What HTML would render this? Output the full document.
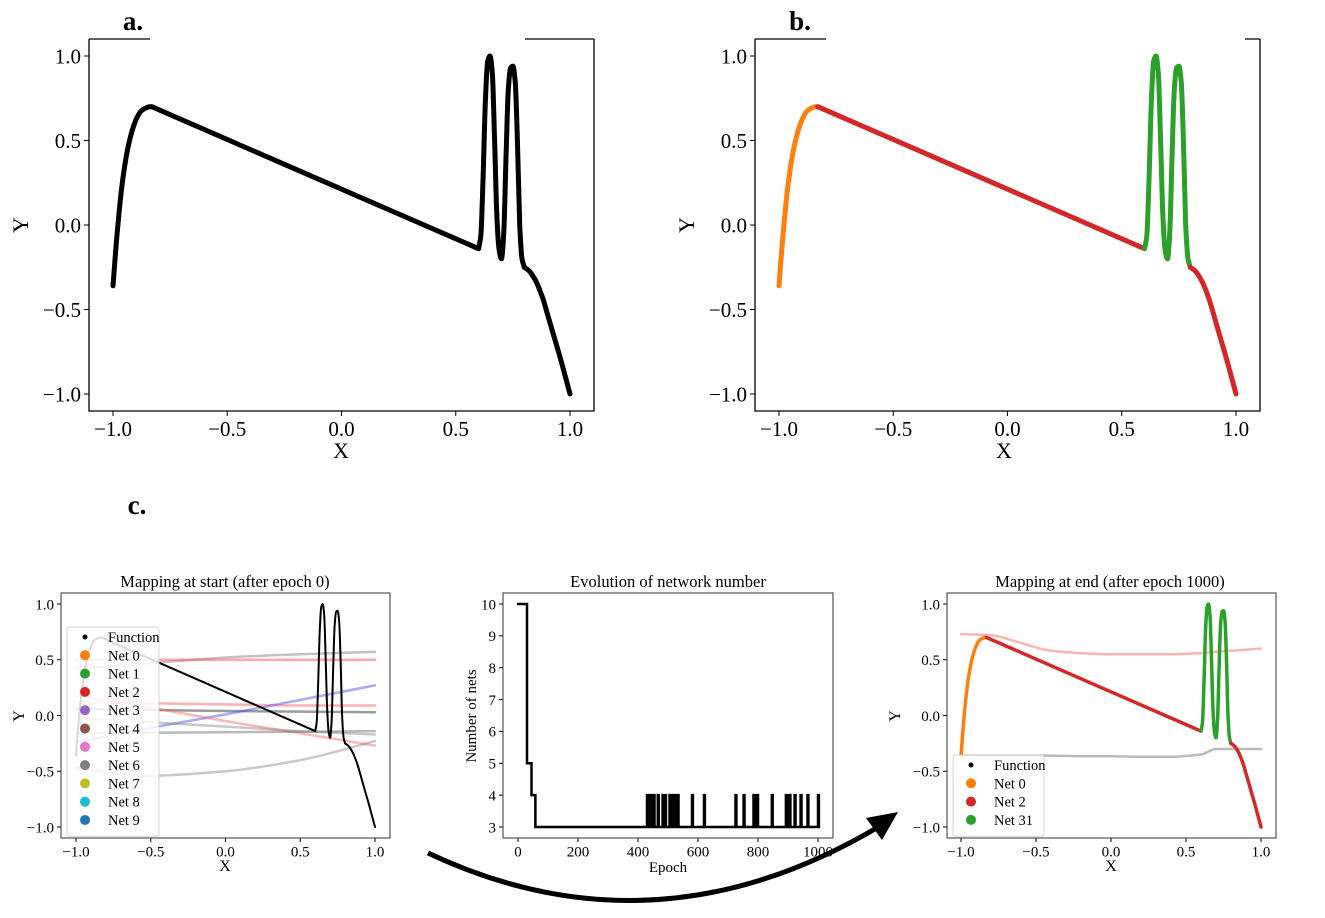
<!DOCTYPE html>
<html><head><meta charset="utf-8"><style>
html,body{margin:0;padding:0;background:#fff;}
svg{display:block;font-family:"Liberation Serif",serif;}
</style></head><body>
<svg id="fig" width="1325" height="918" viewBox="0 0 1325 918"></svg>
<script>
// ---- data ----
const funcX = [-1,-0.98,-0.96,-0.94,-0.92,-0.9,-0.88,-0.86,-0.84,-0.83,0.6,0.61,0.62,0.63,0.64,0.65,0.66,0.67,0.68,0.69,0.70,0.71,0.72,0.73,0.74,0.75,0.76,0.77,0.78,0.79,0.8,0.82,0.85,0.88,0.9,0.93,0.96,1.0];
const funcY = [-0.36,-0.02,0.24,0.42,0.54,0.62,0.67,0.69,0.70,0.70,-0.14,-0.06,0.3,0.75,0.97,1.0,0.9,0.5,0.05,-0.15,-0.2,-0.05,0.4,0.8,0.93,0.94,0.85,0.5,0.0,-0.2,-0.25,-0.27,-0.33,-0.43,-0.52,-0.66,-0.8,-1.0];
const segBreaks = [-0.83, 0.6, 0.8];
const segColorsB = ["#ff7f0e","#d62728","#2ca02c","#d62728"];
const xTicks = [-1.0,-0.5,0.0,0.5,1.0];
const yTicks = [1.0,0.5,0.0,-0.5,-1.0];
const tickLabels = ["\u22121.0","\u22120.5","0.0","0.5","1.0"];
const yTickLabels = ["1.0","0.5","0.0","\u22120.5","\u22121.0"];
const netSampleX = [-1,-0.5,0,0.5,1];
const startNetY = [
 [0.42,0.47,0.52,0.55,0.57],
 [0.5,0.5,0.5,0.5,0.5],
 [0.12,0.11,0.10,0.09,0.09],
 [0.06,0.05,0.04,0.035,0.03],
 [-0.24,-0.11,0.01,0.14,0.27],
 [0.18,0.07,-0.05,-0.16,-0.27],
 [-0.02,-0.06,-0.1,-0.14,-0.17],
 [-0.16,-0.155,-0.15,-0.145,-0.14],
 [-0.47,-0.54,-0.5,-0.4,-0.23]
];
const startNetColor = ["#777","#ff4040","#ff5050","#222","#4040ff","#ff6060","#888","#666","#888"];
const startLegend = ["Function","Net 0","Net 1","Net 2","Net 3","Net 4","Net 5","Net 6","Net 7","Net 8","Net 9"];
const startLegendColor = ["#000","#ff7f0e","#2ca02c","#d62728","#9467bd","#8c564b","#e377c2","#7f7f7f","#bcbd22","#17becf","#1f77b4"];
const endNetX = [-1,-0.8,-0.6,-0.4,-0.2,0,0.2,0.4,0.6,0.7,0.8,0.9,1];
const endNetRed = [0.73,0.72,0.65,0.58,0.56,0.55,0.55,0.55,0.56,0.57,0.58,0.59,0.6];
const endNetGray = [-0.36,-0.36,-0.36,-0.36,-0.365,-0.365,-0.37,-0.37,-0.35,-0.3,-0.3,-0.3,-0.3];
const endLegend = ["Function","Net 0","Net 2","Net 31"];
const endLegendColor = ["#000","#ff7f0e","#d62728","#2ca02c"];
const stepEpoch = [0,30,30,45,45,58,58];
const stepNets = [10,10,5,5,4,4,3];
const spikeEpochs = [430,436,441,447,452,466,482,490,505,512,520,526,532,580,620,725,752,785,790,797,846,893,898,905,922,942,965,1000];
const epochTicks = [0,200,400,600,800,1000];
const netTicks = [3,4,5,6,7,8,9,10];

const svg = document.getElementById('fig');
const NS = 'http://www.w3.org/2000/svg';
function mk(tag, attrs, parent){const e=document.createElementNS(NS,tag);for(const k in attrs)e.setAttribute(k,attrs[k]);(parent||svg).appendChild(e);return e;}
function txt(s,x,y,size,anchor,parent,extra){const t=mk('text',Object.assign({x:x,y:y,'font-size':size,'text-anchor':anchor||'middle',fill:'#000'},extra||{}),parent);t.textContent=s;return t;}
function scale(d0,d1,p0,p1){return v=>p0+(v-d0)*(p1-p0)/(d1-d0);}

function axes(name, L,R,T,B, sx, sy, xt, xl, yt, yl, fs, tickLen){
  const g=mk('g',{});
  
  
  xt.forEach((v,i)=>{const x=sx(v);mk('line',{x1:x,x2:x,y1:B,y2:B+tickLen,stroke:'#000','stroke-width':1},g);
    const t=txt(xl[i],x,B+tickLen+fs*0.95,fs,'middle',g);});
  yt.forEach((v,i)=>{const y=sy(v);mk('line',{x1:L-tickLen,x2:L,y1:y,y2:y,stroke:'#000','stroke-width':1},g);
    const t=txt(yl[i],L-tickLen-3,y+fs*0.35,fs,'end',g);});
  return g;
}
// Hermite spline parametrized by x (no backtracking)
function smoothPath(pts){
  const n=pts.length;
  let d='M'+pts[0][0].toFixed(1)+','+pts[0][1].toFixed(1);
  if(n<3){for(let i=1;i<n;i++)d+=' L'+pts[i][0].toFixed(1)+','+pts[i][1].toFixed(1);return d;}
  const m=pts.map((p,i)=>{
    if(i===0)return (pts[1][1]-p[1])/(pts[1][0]-p[0]);
    if(i===n-1)return (p[1]-pts[i-1][1])/(p[0]-pts[i-1][0]);
    const s0=(p[1]-pts[i-1][1])/(p[0]-pts[i-1][0]), s1=(pts[i+1][1]-p[1])/(pts[i+1][0]-p[0]);
    if(s0*s1<=0)return 0;
    const h0=p[0]-pts[i-1][0],h1=pts[i+1][0]-p[0];
    return (h0+h1)/(h0/s0+h1/s1);
  });
  for(let i=0;i<n-1;i++){
    const p1=pts[i],p2=pts[i+1],h=(p2[0]-p1[0])/3;
    d+=` C${(p1[0]+h).toFixed(1)},${(p1[1]+m[i]*h).toFixed(1)} ${(p2[0]-h).toFixed(1)},${(p2[1]-m[i+1]*h).toFixed(1)} ${p2[0].toFixed(1)},${p2[1].toFixed(1)}`;
  }
  return d;
}
function poly(xs,ys,sx,sy,color,w,op,name,parent,straight){
  const pts=xs.map((x,i)=>[sx(x),sy(ys[i])]);
  const d=straight?'M'+pts.map(p=>p[0].toFixed(1)+','+p[1].toFixed(1)).join(' L'):smoothPath(pts);
  const p=mk('path',{d:d,fill:'none',stroke:color,'stroke-width':w,'stroke-linejoin':'round','stroke-linecap':'round',opacity:op},parent);
  
  
  return p;
}
function segments(sx,sy,colors,w,parent,name){
  const bounds=[-Infinity].concat(segBreaks).concat([Infinity]);
  for(let s=0;s<colors.length;s++){
    const xs=[],ys=[];
    funcX.forEach((x,i)=>{if(x>=bounds[s]-1e-9&&x<=bounds[s+1]+1e-9){xs.push(x);ys.push(funcY[i]);}});
    poly(xs,ys,sx,sy,colors[s],w,1,name+'-segment-'+s,parent);
  }
}

// ---------- Panel a ----------
(function(){
  const L=89,R=594,T=39,B=411;
  const sx=scale(-1,1,113,570), sy=scale(1,-1,56,394);
  axes('panel-a-axes',L,R,T,B,sx,sy,xTicks,tickLabels,yTicks,yTickLabels,21,5);
  segments(sx,sy,['#000','#000','#000','#000'],5,null,'panel-a-function');
  mk('path',{d:`M${L},${T} L${L},${B} L${R},${B} L${R},${T} M${L},${T} L150,${T} M525,${T} L${R},${T}`,fill:'none',stroke:'#000','stroke-width':1.3});
  let t=txt('a.',133,30,27,'middle',null,{'font-weight':'bold'});
  t=txt('X',341,458,22);
  t=txt('Y',0,0,22,'middle',null,{transform:'translate(28,225) rotate(-90)'});
})();

// ---------- Panel b ----------
(function(){
  const L=755,R=1260,T=39,B=411;
  const sx=scale(-1,1,779,1236), sy=scale(1,-1,56,394);
  axes('panel-b-axes',L,R,T,B,sx,sy,xTicks,tickLabels,yTicks,yTickLabels,21,5);
  segments(sx,sy,segColorsB,5,null,'panel-b-function');
  mk('path',{d:`M${L},${T} L${L},${B} L${R},${B} L${R},${T} M${L},${T} L826,${T} M1245,${T} L${R},${T}`,fill:'none',stroke:'#000','stroke-width':1.3});
  let t=txt('b.',800,30,27,'middle',null,{'font-weight':'bold'});
  t=txt('X',1004,458,22);
  t=txt('Y',0,0,22,'middle',null,{transform:'translate(694,225) rotate(-90)'});
})();

let tc=txt('c.',137,514,27,'middle',null,{'font-weight':'bold'});

function legend(name,x,y,w,labels,colors){
  const g=mk('g',{});
  
  
  mk('rect',{x:x,y:y,width:w,height:labels.length*18.3+8,fill:'#fff',opacity:0.85,stroke:'#ccc',rx:2},g);
  labels.forEach((l,i)=>{const cy=y+10+i*18.3;
    mk('circle',{cx:x+18,cy:cy,r:i===0?2.5:5,fill:colors[i]},g);
    const t=txt(l,x+41,cy+5,14.5,'start',g);});
}

// ---------- c1 start mapping ----------
(function(){
  const L=61,R=390,T=593,B=838;
  const sx=scale(-1,1,76,375), sy=scale(1,-1,604,827);
  axes('start-mapping-axes',L,R,T,B,sx,sy,xTicks,tickLabels,yTicks,yTickLabels,15,4);
  startNetY.forEach((ys,i)=>poly(netSampleX,ys,sx,sy,startNetColor[i],2.5,0.45,'start-net-curve-'+i));
  segments(sx,sy,['#000','#000','#000','#000'],2,null,'start-function');
  mk('rect',{x:L,y:T,width:R-L,height:B-T,fill:'none',stroke:'#333','stroke-width':1});
  legend('start-legend',67,627,92,startLegend,startLegendColor);
  let t=txt('Mapping at start (after epoch 0)',225,587,16.5);
  t=txt('X',225,871,16);
  t=txt('Y',0,0,16,'middle',null,{transform:'translate(24,716) rotate(-90)'});
})();

// ---------- c2 network number ----------
(function(){
  const L=503,R=833,T=593,B=838;
  const sx=scale(0,1000,518,818), sy=scale(10,3,604,827);
  axes('network-number-axes',L,R,T,B,sx,sy,epochTicks,epochTicks.map(String),netTicks,netTicks.map(String),15,4);
  const ex=stepEpoch.slice(), ny=stepNets.slice();
  spikeEpochs.forEach(e=>{ex.push(e,e,e+3,e+3);ny.push(3,4,4,3);});
  ex.push(1000);ny.push(3);
  poly(ex,ny,sx,sy,'#000',2.5,1,'network-count-line',null,true).setAttribute('stroke-linejoin','miter');
  mk('rect',{x:L,y:T,width:R-L,height:B-T,fill:'none',stroke:'#333','stroke-width':1});
  let t=txt('Evolution of network number',668,587,16.5);
  t=txt('Epoch',668,872,15);
  t=txt('Number of nets',0,0,15,'middle',null,{transform:'translate(476,716) rotate(-90)'});
})();

// ---------- c3 end mapping ----------
(function(){
  const L=947,R=1276,T=593,B=838;
  const sx=scale(-1,1,961,1261), sy=scale(1,-1,604,827);
  axes('end-mapping-axes',L,R,T,B,sx,sy,xTicks,tickLabels,yTicks,yTickLabels,15,4);
  poly(endNetX,endNetRed,sx,sy,'#ff4040',2.5,0.4,'end-net-red-faint');
  poly(endNetX,endNetGray,sx,sy,'#555',2.5,0.4,'end-net-gray-faint');
  segments(sx,sy,segColorsB,3.5,null,'end-function');
  mk('rect',{x:L,y:T,width:R-L,height:B-T,fill:'none',stroke:'#333','stroke-width':1});
  legend('end-legend',953,755,91,endLegend,endLegendColor);
  let t=txt('Mapping at end (after epoch 1000)',1110,587,16.5);
  t=txt('X',1111,871,16);
  t=txt('Y',0,0,16,'middle',null,{transform:'translate(900,716) rotate(-90)'});
})();

// ---------- arrow ----------
(function(){
  const a=mk('path',{d:'M428,853 Q655,960 880,826',fill:'none',stroke:'#000','stroke-width':5});
  
  
  const h=mk('polygon',{points:'898,812 866,818 882,840',fill:'#000'});
  
  
})();
</script>
</body></html>
